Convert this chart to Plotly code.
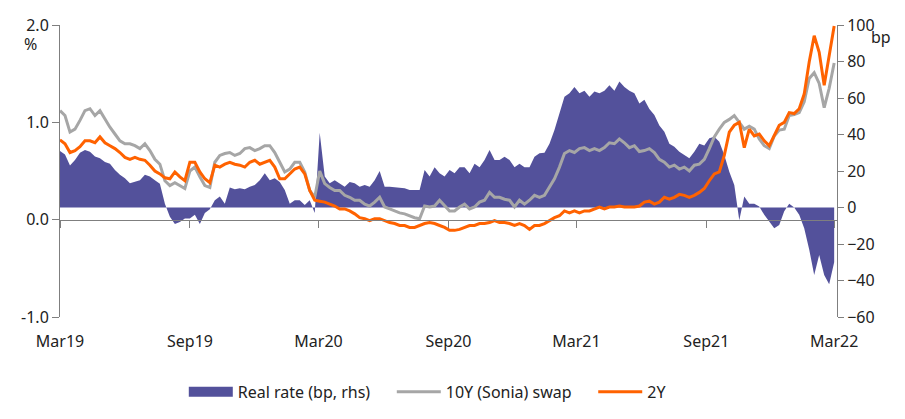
import pandas as pd
import plotly.graph_objects as go

# weekly-ish observations, Mar19 -> Mar22
dates = pd.date_range("2019-03-01", "2022-03-01", periods=156)

swap_10y = [
    1.12, 1.07, 0.90, 0.93, 1.02, 1.12, 1.14, 1.07, 1.12, 1.03,
    0.95, 0.88, 0.81, 0.78, 0.78, 0.76, 0.73, 0.78, 0.71, 0.62,
    0.57, 0.40, 0.35, 0.38, 0.35, 0.32, 0.50, 0.54, 0.44, 0.35,
    0.33, 0.59, 0.66, 0.68, 0.69, 0.66, 0.68, 0.73, 0.74, 0.71,
    0.73, 0.76, 0.76, 0.69, 0.59, 0.49, 0.52, 0.59, 0.59, 0.49,
    0.30, 0.23, 0.50, 0.37, 0.33, 0.30, 0.30, 0.25, 0.23, 0.20,
    0.20, 0.16, 0.14, 0.18, 0.23, 0.13, 0.11, 0.09, 0.07, 0.06,
    0.04, 0.02, 0.01, 0.14, 0.13, 0.14, 0.20, 0.15, 0.09, 0.09,
    0.13, 0.16, 0.11, 0.13, 0.18, 0.20, 0.28, 0.23, 0.23, 0.21,
    0.20, 0.13, 0.20, 0.16, 0.20, 0.25, 0.23, 0.25, 0.33, 0.42,
    0.54, 0.68, 0.71, 0.69, 0.73, 0.74, 0.71, 0.73, 0.71, 0.74,
    0.79, 0.78, 0.83, 0.79, 0.74, 0.76, 0.70, 0.71, 0.73, 0.69,
    0.62, 0.59, 0.54, 0.56, 0.52, 0.54, 0.50, 0.56, 0.57, 0.62,
    0.73, 0.85, 0.93, 1.00, 1.03, 1.07, 1.00, 0.93, 0.96, 0.93,
    0.83, 0.76, 0.73, 0.86, 0.92, 0.93, 1.07, 1.08, 1.10, 1.21,
    1.45, 1.51, 1.40, 1.15, 1.35, 1.61,
]

swap_2y = [
    0.82, 0.78, 0.69, 0.71, 0.75, 0.81, 0.81, 0.79, 0.85, 0.79,
    0.76, 0.73, 0.69, 0.64, 0.62, 0.64, 0.62, 0.61, 0.56, 0.50,
    0.47, 0.43, 0.42, 0.49, 0.44, 0.40, 0.59, 0.59, 0.49, 0.42,
    0.38, 0.56, 0.54, 0.57, 0.59, 0.57, 0.56, 0.54, 0.59, 0.61,
    0.57, 0.59, 0.61, 0.54, 0.42, 0.42, 0.47, 0.52, 0.54, 0.47,
    0.30, 0.20, 0.19, 0.18, 0.16, 0.14, 0.11, 0.11, 0.09, 0.06,
    0.02, 0.01, -0.01, 0.01, 0.01, -0.01, -0.03, -0.04, -0.06, -0.06,
    -0.08, -0.08, -0.06, -0.04, -0.03, -0.04, -0.06, -0.08, -0.11, -0.11,
    -0.10, -0.08, -0.06, -0.06, -0.04, -0.04, -0.03, -0.01, -0.03, -0.03,
    -0.04, -0.06, -0.04, -0.06, -0.10, -0.06, -0.06, -0.04, -0.01, 0.02,
    0.04, 0.09, 0.07, 0.09, 0.07, 0.09, 0.09, 0.11, 0.13, 0.11,
    0.13, 0.13, 0.14, 0.13, 0.13, 0.13, 0.14, 0.18, 0.19, 0.16,
    0.18, 0.23, 0.21, 0.23, 0.26, 0.25, 0.23, 0.25, 0.28, 0.32,
    0.40, 0.47, 0.49, 0.66, 0.90, 0.97, 1.00, 0.74, 0.93, 0.86,
    0.88, 0.81, 0.76, 0.86, 0.97, 1.00, 1.10, 1.09, 1.14, 1.29,
    1.62, 1.89, 1.72, 1.38, 1.70, 1.99,
]

real_rate_bp = [
    31, 29, 23, 26, 30, 31.5, 30.6, 28, 27, 25,
    24, 20.5, 18, 16, 13.3, 14, 15, 18, 17, 15,
    13, 2, -5, -9, -8, -6, -6, -4, -9, -3,
    -1, 4, 6, 2, 11, 10, 10.5, 10, 11.4, 12.3,
    15, 18.7, 15, 16, 14, 9.6, 2, 4, 4, 1.4,
    4, -3, 41, 17, 13.3, 15, 13, 11.4, 14, 13.3,
    11.4, 12.3, 11.4, 15, 20, 11.4, 11.4, 11, 10.5, 10.5,
    9.6, 9.6, 9.6, 20.5, 17, 22, 18.7, 17, 20.5, 18.7,
    22, 22, 18.7, 24, 22, 26, 31.5, 26, 26, 27.8,
    26, 22, 24, 22, 22, 27.8, 29.7, 30, 35, 42.5,
    51.6, 60.7, 62.6, 66, 62.6, 64, 60.7, 63.5, 62.6, 64,
    67, 64, 69, 66, 64, 62.6, 57, 59, 54, 50.7,
    45, 41.5, 35, 33.3, 30.6, 28.8, 27, 30.6, 35, 34,
    38, 38.8, 36, 28.8, 19.6, 12.3, -7, 6, 2, 2,
    0.5, -4, -7.8, -11.4, -9.6, -2, 2, 0, -4, -11.4,
    -23, -37, -26, -37, -42, -30,
]

tick_dates = ["2019-03-01", "2019-09-01", "2020-03-01", "2020-09-01",
              "2021-03-01", "2021-09-01", "2022-03-01"]
tick_labels = ["Mar19", "Sep19", "Mar20", "Sep20", "Mar21", "Sep21", "Mar22"]

BLUE = "#53519b"
GREY = "#a6a6a6"
ORANGE = "#ff6200"
AXIS = "#7f7f7f"
TXT = "#222222"
FONT = "Noto Sans"
FS = 16
x_range = ["2019-03-01", "2022-03-05"]
GAP = "\u00a0" * 4  # extra room between legend entries

fig = go.Figure()

# area on the bp (right) axis, drawn first
fig.add_trace(go.Scatter(
    x=dates, y=real_rate_bp, xaxis="x", yaxis="y",
    mode="lines", fill="tozeroy", fillcolor=BLUE,
    line=dict(width=0, color=BLUE), showlegend=False, hoverinfo="skip",
))
# legend stand-in for the area (thick bar)
fig.add_trace(go.Scatter(
    x=[None], y=[None], xaxis="x", yaxis="y", mode="lines",
    line=dict(color=BLUE, width=10), name="Real rate (bp, rhs)" + GAP,
))
fig.add_trace(go.Scatter(
    x=dates, y=swap_10y, xaxis="x2", yaxis="y2", mode="lines",
    line=dict(color=GREY, width=3), name="10Y (Sonia) swap" + GAP,
))
fig.add_trace(go.Scatter(
    x=dates, y=swap_2y, xaxis="x2", yaxis="y2", mode="lines",
    line=dict(color=ORANGE, width=3), name="2Y",
))

# page adds an 8px body margin, so the figure is 8px smaller each way
fig.update_layout(
    width=897, height=411,
    paper_bgcolor="white", plot_bgcolor="white",
    margin=dict(l=52, r=68, t=17, b=102),
    font=dict(family=FONT, size=FS, color=TXT),
    showlegend=True,
    legend=dict(
        orientation="h", xref="container", yref="container",
        x=0.468, y=0.066, xanchor="center", yanchor="middle",
        font=dict(size=FS, color=TXT), itemwidth=44,
        bgcolor="rgba(0,0,0,0)",
    ),
    # bottom axis: only the labels
    xaxis=dict(
        range=x_range, tickvals=tick_dates, ticktext=tick_labels,
        showline=False, showgrid=False, zeroline=False, ticks="",
        ticklabelstandoff=13, tickfont=dict(size=FS, color=TXT),
        automargin=False,
    ),
    # axis line at 0 % with the date ticks
    xaxis2=dict(
        matches="x", overlaying="x", anchor="free", position=1 / 3,
        tickvals=tick_dates, showticklabels=False,
        showline=True, linecolor=AXIS, linewidth=1,
        ticks="outside", ticklen=7, tickcolor=AXIS,
        showgrid=False, zeroline=False, automargin=False,
    ),
    yaxis=dict(
        side="right", range=[-60, 100], tickvals=[-60, -40, -20, 0, 20, 40, 60, 80, 100],
        showline=True, linecolor=AXIS, ticks="outside", ticklen=6, tickcolor=AXIS,
        showgrid=False, zeroline=False, tickfont=dict(size=FS, color=TXT),
        automargin=False,
    ),
    yaxis2=dict(
        overlaying="y", side="left", anchor="x", range=[-1, 2],
        tickvals=[-1, 0, 1, 2], ticktext=["-1.0", "0.0", "1.0", "2.0"],
        showline=True, linecolor=AXIS, ticks="outside", ticklen=7, tickcolor=AXIS,
        showgrid=False, zeroline=False, tickfont=dict(size=FS, color=TXT),
        automargin=False,
    ),
    annotations=[
        dict(text="%", xref="paper", yref="paper", x=-0.038, y=0.935,
             showarrow=False, xanchor="center", yanchor="middle",
             font=dict(size=FS, color=TXT)),
        dict(text="bp", xref="paper", yref="paper", x=1.056, y=0.96,
             showarrow=False, xanchor="center", yanchor="middle",
             font=dict(size=FS, color=TXT)),
    ],
)

fig.write_html("out.html")
